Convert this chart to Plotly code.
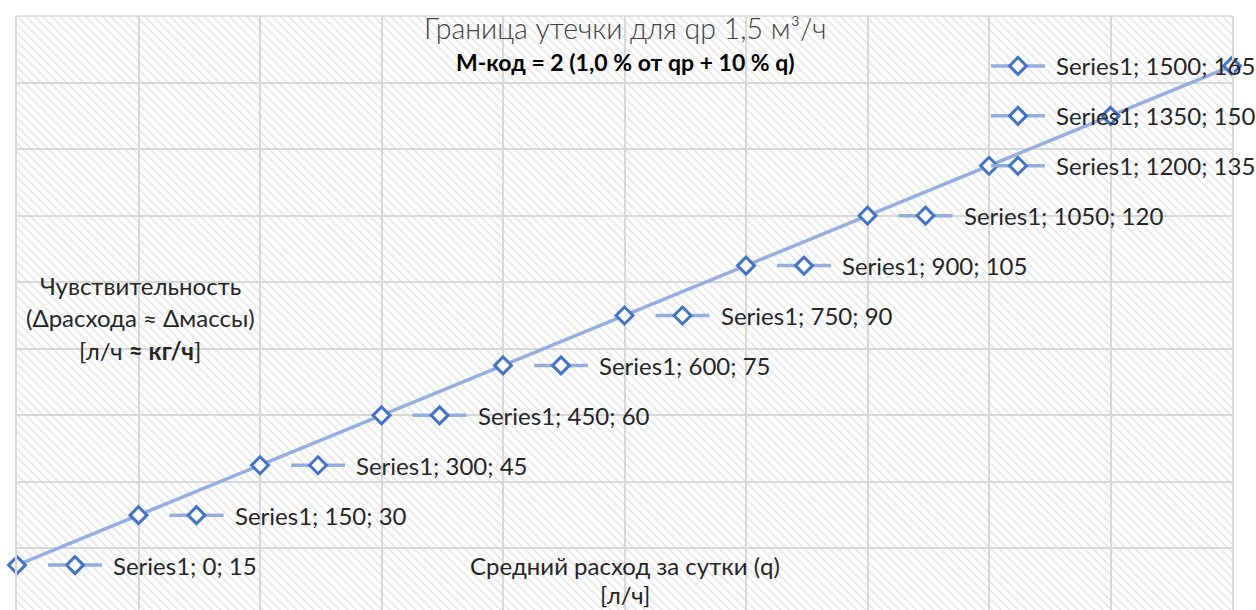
import plotly.graph_objects as go

# ---- data ----
q_values = [0, 150, 300, 450, 600, 750, 900, 1050, 1200, 1350, 1500]
sens_values = [15, 30, 45, 60, 75, 90, 105, 120, 135, 150, 165]
series_name = "Series1"

title_text = "Граница утечки для qp 1,5 м³/ч"
subtitle_text = "М-код = 2 (1,0 % от qp + 10 % q)"
ytitle_lines = ["Чувствительность", "(Δрасхода ≈ Δмассы)", "[л/ч <b>≈ кг/ч</b>]"]
xtitle_lines = ["Средний расход за сутки (q)", "[л/ч]"]

# ---- layout geometry ----
W, H = 1256, 610
ML, MR, MT, MB = 17, 24, 16, 0
x_range = [0, 1500]
y_range = [1.5, 180]
plot_w = W - ML - MR
plot_h = H - MT - MB
ppu_x = plot_w / (x_range[1] - x_range[0])

KEY_OFF = 58      # px from point to key centre
KEY_MAX_PX = 1018 # key centre cannot go further right (label clamped in chart)
KEY_HALF = 27
TEXT_OFF = 38

FONT = "Lato"
LABEL_SIZE = 24
LINE_COLOR = "rgba(143,170,220,0.95)"
MARK_COLOR = "#4472C4"

def px_to_x(px):
    return x_range[0] + (px - ML) / ppu_x

def x_to_px(x):
    return ML + (x - x_range[0]) * ppu_x

def paper_x(px):
    return (px - ML) / plot_w

def paper_y(py):
    return (H - MB - py) / plot_h

fig = go.Figure()

# hatched plot-area background
fig.add_trace(go.Scatter(
    x=[x_range[0], x_range[1], x_range[1], x_range[0], x_range[0]],
    y=[y_range[0], y_range[0], y_range[1], y_range[1], y_range[0]],
    mode="none", fill="toself", fillcolor="rgba(0,0,0,0)",
    fillpattern=dict(shape="\\", fgcolor="#d0d0d0", bgcolor="rgba(0,0,0,0)",
                     size=6, solidity=0.3),
    hoverinfo="skip", showlegend=False))

# main series
fig.add_trace(go.Scatter(
    x=q_values, y=sens_values, mode="lines+markers", name=series_name,
    line=dict(color=LINE_COLOR, width=3.5),
    marker=dict(symbol="diamond", size=13, color="white",
                line=dict(color=MARK_COLOR, width=3)),
    cliponaxis=False, showlegend=False))

# data label legend keys
key_x, key_y, seg_x, seg_y = [], [], [], []
for q, s in zip(q_values, sens_values):
    kpx = min(x_to_px(q) + KEY_OFF, KEY_MAX_PX)
    key_x.append(px_to_x(kpx))
    key_y.append(s)
    seg_x += [px_to_x(kpx - KEY_HALF), px_to_x(kpx + KEY_HALF), None]
    seg_y += [s, s, None]
    fig.add_annotation(
        x=px_to_x(kpx), y=s, xref="x", yref="y", xanchor="left", yanchor="middle",
        xshift=TEXT_OFF - 2, text=f"{series_name}; {q}; {s}", showarrow=False,
        font=dict(family=FONT, size=LABEL_SIZE, color="#262626"))

fig.add_trace(go.Scatter(x=seg_x, y=seg_y, mode="lines",
                         line=dict(color=LINE_COLOR, width=3.5),
                         hoverinfo="skip", showlegend=False))
fig.add_trace(go.Scatter(x=key_x, y=key_y, mode="markers",
                         marker=dict(symbol="diamond", size=13, color="white",
                                     line=dict(color=MARK_COLOR, width=3)),
                         hoverinfo="skip", showlegend=False))

# titles
fig.add_annotation(x=paper_x(625), y=paper_y(28), xref="paper", yref="paper",
                   text=title_text, showarrow=False, xanchor="center", yanchor="middle",
                   font=dict(family=FONT, size=28.5, color="#404040", weight=300))
fig.add_annotation(x=paper_x(625), y=paper_y(62), xref="paper", yref="paper",
                   text=f"<b>{subtitle_text}</b>", showarrow=False, xanchor="center",
                   yanchor="middle", font=dict(family=FONT, size=23, color="#000000"))
for i, t in enumerate(ytitle_lines):
    fig.add_annotation(x=paper_x(140), y=paper_y(285 + 32.5 * i), xref="paper", yref="paper",
                       text=t, showarrow=False, xanchor="center", yanchor="middle",
                       font=dict(family=FONT, size=LABEL_SIZE, color="#262626"))
for i, t in enumerate(xtitle_lines):
    fig.add_annotation(x=paper_x(625), y=paper_y(565 + 29.5 * i), xref="paper", yref="paper",
                       text=t, showarrow=False, xanchor="center", yanchor="middle",
                       font=dict(family=FONT, size=LABEL_SIZE, color="#262626"))

fig.update_layout(
    width=W, height=H,
    margin=dict(l=ML, r=MR, t=MT, b=MB, pad=0),
    paper_bgcolor="white", plot_bgcolor="white",
    xaxis=dict(range=x_range, dtick=150, tick0=0, showgrid=True, gridcolor="#d9d9d9",
               gridwidth=1.5, zeroline=False, showticklabels=False, ticks="",
               showline=False),
    yaxis=dict(range=y_range, dtick=20, tick0=0, showgrid=True, gridcolor="#d9d9d9",
               gridwidth=1.5, zeroline=False, showticklabels=False, ticks="",
               showline=True, linecolor="#d9d9d9", linewidth=1.5, mirror=True),
    shapes=[dict(type="line", xref="paper", yref="paper", x0=0, x1=1, y0=1, y1=1,
                 line=dict(color="#d9d9d9", width=1.5))],
)

fig.write_html("out.html", config={"displayModeBar": False},
               post_script="document.body.style.margin='0';")
